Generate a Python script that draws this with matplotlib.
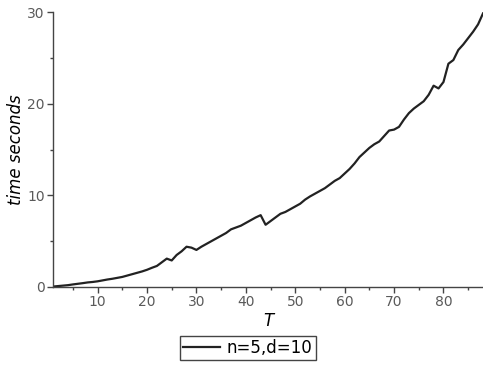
import matplotlib
matplotlib.use("Agg")
import matplotlib.pyplot as plt
from matplotlib.ticker import MultipleLocator

# run time against T
T = list(range(1, 89))
secs = [0.05, 0.10, 0.15, 0.20, 0.28, 0.35, 0.42, 0.50, 0.55, 0.62,
        0.72, 0.82, 0.90, 1.00, 1.10, 1.25, 1.40, 1.55, 1.70, 1.88,
        2.10, 2.30, 2.70, 3.10, 2.90, 3.50, 3.90, 4.40, 4.30, 4.05,
        4.40, 4.70, 5.00, 5.30, 5.60, 5.90, 6.30, 6.50, 6.70, 7.00,
        7.30, 7.60, 7.85, 6.80, 7.20, 7.60, 8.00, 8.20, 8.50, 8.80,
        9.10, 9.55, 9.90, 10.2, 10.5, 10.8, 11.2, 11.6, 11.9, 12.4,
        12.9, 13.5, 14.2, 14.7, 15.2, 15.6, 15.9, 16.5, 17.1, 17.2,
        17.5, 18.3, 19.0, 19.5, 19.9, 20.3, 21.0, 22.0, 21.7, 22.4,
        24.4, 24.8, 25.9, 26.5, 27.2, 27.9, 28.7, 29.9]
label = "n=5,d=10"

fig = plt.figure(figsize=(4.83, 3.67), dpi=100)
ax = fig.add_axes([0.110, 0.218, 0.890, 0.748])

ax.plot(T, secs, color="#222222", lw=1.6, label=label)

ax.set_xlim(1, 88)
ax.set_ylim(0, 30)
ax.xaxis.set_major_locator(MultipleLocator(10))
ax.xaxis.set_minor_locator(MultipleLocator(5))
ax.yaxis.set_major_locator(MultipleLocator(10))
ax.yaxis.set_minor_locator(MultipleLocator(5))

for s in ["top", "right"]:
    ax.spines[s].set_visible(False)
for s in ["left", "bottom"]:
    ax.spines[s].set_color("#444444")
    ax.spines[s].set_linewidth(1.0)

ax.tick_params(which="major", direction="out", length=4, width=1,
               color="#444444", labelcolor="#5a5a5a", labelsize=10, pad=2)
ax.tick_params(which="minor", direction="out", length=2, width=1,
               color="#444444")
ax.set_xticks([10, 20, 30, 40, 50, 60, 70, 80])

ax.set_xlabel("T", style="italic", fontsize=12, labelpad=2)
ax.set_ylabel("time seconds", style="italic", fontsize=12)
ax.yaxis.set_label_coords(-0.066, 0.5)

fig.legend(loc="center", bbox_to_anchor=(248 / 483, 1 - 348 / 367),
           fontsize=12, fancybox=False, edgecolor="#444444",
           handlelength=2.2, handletextpad=0.4, borderpad=0.2,
           framealpha=1)

fig.savefig("out.png", dpi=100, facecolor="white")
